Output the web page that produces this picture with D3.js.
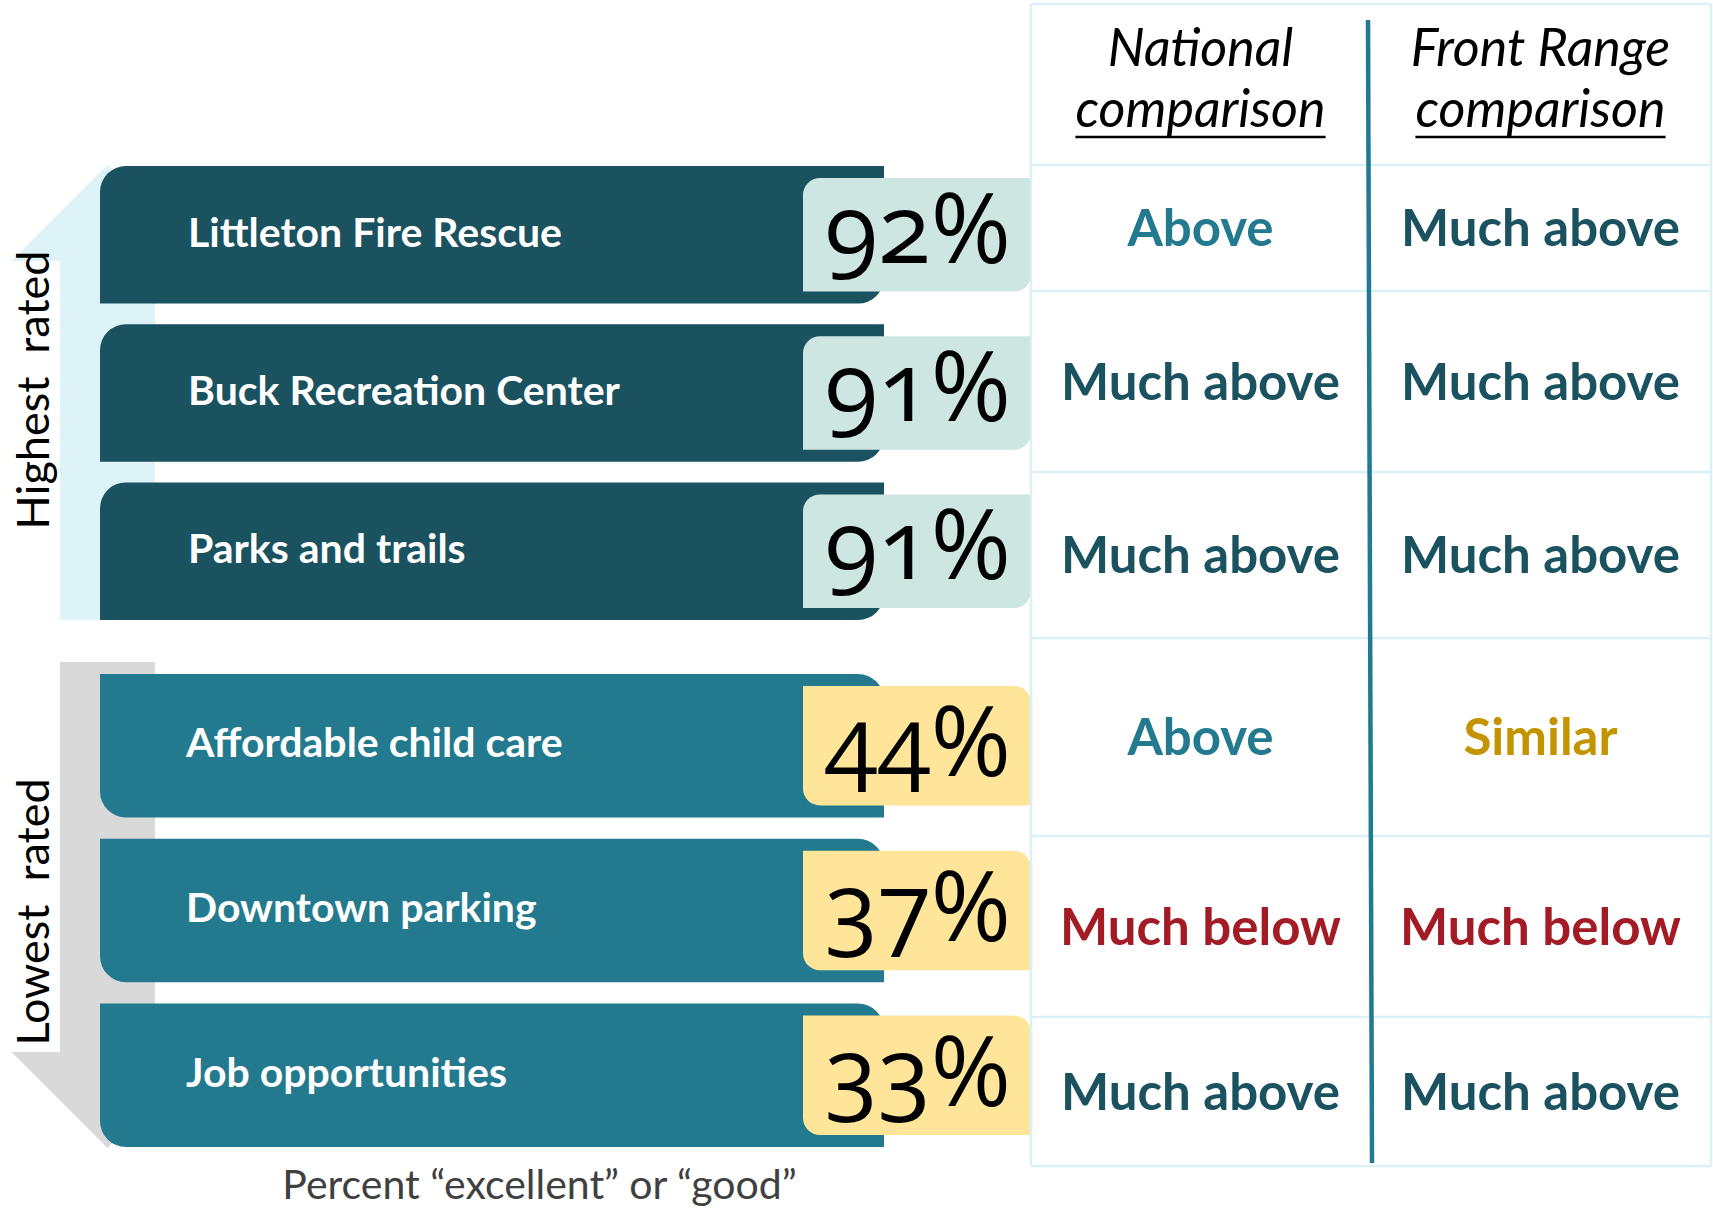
<!DOCTYPE html>
<html>
<head>
<meta charset="utf-8">
<script src="https://cdn.jsdelivr.net/npm/d3@7"></script>
<style>
  body { margin: 0; background: #fff; }
  svg { display: block; font-family: Lato, "Open Sans", sans-serif; }
</style>
</head>
<body>
<div id="chart"></div>
<script>
// --- Data ---
const categories = [
  "Littleton Fire Rescue",
  "Buck Recreation Center",
  "Parks and trails",
  "Affordable child care",
  "Downtown parking",
  "Job opportunities"
];
const groups = ["high", "high", "high", "low", "low", "low"];
const percents = [92, 91, 91, 44, 37, 33];
const nationalComparison = ["Above", "Much above", "Much above", "Above", "Much below", "Much above"];
const frontRangeComparison = ["Much above", "Much above", "Much above", "Similar", "Much below", "Much above"];
const groupLabels = { high: "Highest  rated", low: "Lowest  rated" };
const columnHeaders = [["National", "comparison"], ["Front Range", "comparison"]];
const caption = "Percent \u201cexcellent\u201d or \u201cgood\u201d";

// --- Layout ---
const width = 1713;
const height = 1209;
const rowEdges = [165, 291, 472, 638, 836, 1017, 1166]; // table row boundaries
const tableLeft = 1031, tableRight = 1711, tableTop = 4, divider = 1370;

const colors = {
  high: "#1a5260",
  low: "#237a8f",
  boxHigh: "#cee6e2",
  boxLow: "#fee59a",
  bandHigh: "#ddf3f8",
  bandLow: "#d9d9d9",
  grid: "#dcf1f6"
};
const ratingColor = {
  "Above": "#237a8f",
  "Much above": "#1a5260",
  "Much below": "#a31b24",
  "Similar": "#c49400"
};

const svg = d3.select("#chart")
  .append("svg")
  .attr("width", width)
  .attr("height", height);

// one band scale per group, so there is a gap between them
const yHigh = d3.scaleBand()
  .domain(categories.filter((d, i) => groups[i] === "high"))
  .range([166, 620])
  .paddingInner(0.13);
const yLow = d3.scaleBand()
  .domain(categories.filter((d, i) => groups[i] === "low"))
  .range([674, 1147])
  .paddingInner(0.13);
const y = (name, i) => (groups[i] === "high" ? yHigh(name) : yLow(name));
const bw = (i) => (groups[i] === "high" ? yHigh.bandwidth() : yLow.bandwidth());

const colCenter = (k) => (k === 0 ? (tableLeft + divider) / 2 : (divider + tableRight) / 2);

// path with separate corner radii [tl, tr, br, bl]
function roundedRect(x, y0, w, h, r) {
  const [tl, tr, br, bl] = r;
  return `M${x + tl},${y0}` +
    `H${x + w - tr}` + (tr ? `A${tr},${tr} 0 0 1 ${x + w},${y0 + tr}` : "") +
    `V${y0 + h - br}` + (br ? `A${br},${br} 0 0 1 ${x + w - br},${y0 + h}` : "") +
    `H${x + bl}` + (bl ? `A${bl},${bl} 0 0 1 ${x},${y0 + h - bl}` : "") +
    `V${y0 + tl}` + (tl ? `A${tl},${tl} 0 0 1 ${x + tl},${y0}` : "") + "Z";
}

// --- Arrow bands on the left ---
const shaftL = 60, shaftR = 155, mid = (shaftL + shaftR) / 2, head = 96;
const highTop = yHigh(yHigh.domain()[0]) + 95;
const highBottom = yHigh(yHigh.domain()[2]) + yHigh.bandwidth();
svg.append("polygon")
  .attr("fill", colors.bandHigh)
  .attr("points", [
    [mid - head, highTop], [mid, highTop - head], [mid + head, highTop],
    [shaftR, highTop], [shaftR, highBottom], [shaftL, highBottom], [shaftL, highTop]
  ].join(" "));

const lowTop = yLow(yLow.domain()[0]) - 12;
const lowBottom = yLow(yLow.domain()[2]) + yLow.bandwidth() - 95;
svg.append("polygon")
  .attr("fill", colors.bandLow)
  .attr("points", [
    [shaftL, lowTop], [shaftR, lowTop], [shaftR, lowBottom], [mid + head, lowBottom],
    [mid, lowBottom + head], [mid - head, lowBottom], [shaftL, lowBottom]
  ].join(" "));

// group labels (rotated)
[["high", 390], ["low", 912]].forEach(([g, cy]) => {
  svg.append("text")
    .attr("transform", `translate(33,${cy}) rotate(-90)`)
    .attr("text-anchor", "middle")
    .attr("dy", "0.36em")
    .style("font-size", "45px")
    .style("white-space", "pre")
    .attr("fill", "#000")
    .text(groupLabels[g]);
});

// --- Bars ---
const rows = categories.map((name, i) => ({
  name, i, group: groups[i], pct: percents[i],
  nat: nationalComparison[i], front: frontRangeComparison[i]
}));

const barX = 100, barW = 784;
svg.append("g")
  .selectAll("path.bar")
  .data(rows)
  .join("path")
  .attr("class", "bar")
  .attr("fill", (d) => colors[d.group])
  .attr("d", (d) => roundedRect(barX, y(d.name, d.i), barW, bw(d.i),
    d.group === "high" ? [26, 0, 26, 0] : [0, 26, 0, 26]));

svg.append("g")
  .selectAll("text.label")
  .data(rows)
  .join("text")
  .attr("class", "label")
  .attr("x", (d) => (d.group === "high" ? 188 : 186))
  .attr("y", (d) => y(d.name, d.i) + bw(d.i) / 2 - 3)
  .attr("dy", "0.36em")
  .attr("fill", "#fff")
  .style("font-size", "41px")
  .style("font-weight", 700)
  .text((d) => d.name);

// percent boxes
const boxX = 803, boxW = 228, inset = 12;
svg.append("g")
  .selectAll("path.box")
  .data(rows)
  .join("path")
  .attr("class", "box")
  .attr("fill", (d) => (d.group === "high" ? colors.boxHigh : colors.boxLow))
  .attr("d", (d) => roundedRect(boxX, y(d.name, d.i) + inset, boxW, bw(d.i) - 2 * inset,
    d.group === "high" ? [17, 0, 17, 0] : [0, 17, 0, 17]));

svg.append("g")
  .selectAll("text.pct")
  .data(rows)
  .join("text")
  .attr("class", "pct")
  .attr("x", boxX + boxW / 2 + 1)
  .attr("y", (d) => y(d.name, d.i) + bw(d.i) - inset - 29)
  .attr("text-anchor", "middle")
  .attr("fill", "#000")
  .style("font-family", "'Open Sans', 'Noto Sans', sans-serif")
  .style("font-size", "97px")
  .style("font-variant-numeric", "oldstyle-nums")
  .style("font-feature-settings", "'onum' 1")
  .text((d) => d.pct + "%");

// axis caption
svg.append("text")
  .attr("x", (barX + boxX + boxW) / 2 - 26)
  .attr("y", 1199)
  .attr("text-anchor", "middle")
  .attr("fill", "#404040")
  .style("font-size", "41px")
  .text(caption);

// --- Comparison table ---
const grid = svg.append("g")
  .attr("stroke", colors.grid)
  .attr("stroke-width", 2.5);
grid.selectAll("line.h")
  .data([tableTop].concat(rowEdges))
  .join("line")
  .attr("x1", tableLeft).attr("x2", tableRight)
  .attr("y1", (d) => d).attr("y2", (d) => d);
grid.selectAll("line.v")
  .data([tableLeft, tableRight])
  .join("line")
  .attr("class", "v")
  .attr("x1", (d) => d).attr("x2", (d) => d)
  .attr("y1", tableTop).attr("y2", rowEdges[rowEdges.length - 1]);

svg.append("line")
  .attr("x1", divider - 2).attr("x2", divider + 2)
  .attr("y1", 20).attr("y2", 1163)
  .attr("stroke", "#217a8f")
  .attr("stroke-width", 4.5);

// column headers
columnHeaders.forEach((lines, k) => {
  const cx = colCenter(k);
  lines.forEach((t, j) => {
    const txt = svg.append("text")
      .attr("x", cx)
      .attr("y", j === 0 ? 66 : 127)
      .attr("text-anchor", "middle")
      .attr("fill", "#000")
      .style("font-size", "52px")
      .style("font-style", "italic")
      .text(t);
    if (j === 1) {
      const w = txt.node().getComputedTextLength();
      svg.append("line")
        .attr("x1", cx - w / 2).attr("x2", cx + w / 2)
        .attr("y1", 137).attr("y2", 137)
        .attr("stroke", "#000")
        .attr("stroke-width", 2.5);
    }
  });
});

// rating cells
const rowCenter = (i) => (rowEdges[i] + rowEdges[i + 1]) / 2;
[["nat", 0], ["front", 1]].forEach(([key, k]) => {
  svg.append("g")
    .selectAll("text")
    .data(rows)
    .join("text")
    .attr("x", colCenter(k))
    .attr("y", (d) => rowCenter(d.i))
    .attr("dy", "0.36em")
    .attr("text-anchor", "middle")
    .attr("fill", (d) => ratingColor[d[key]])
    .style("font-size", "51px")
    .style("font-weight", 700)
    .text((d) => d[key]);
});
</script>
</body>
</html>
